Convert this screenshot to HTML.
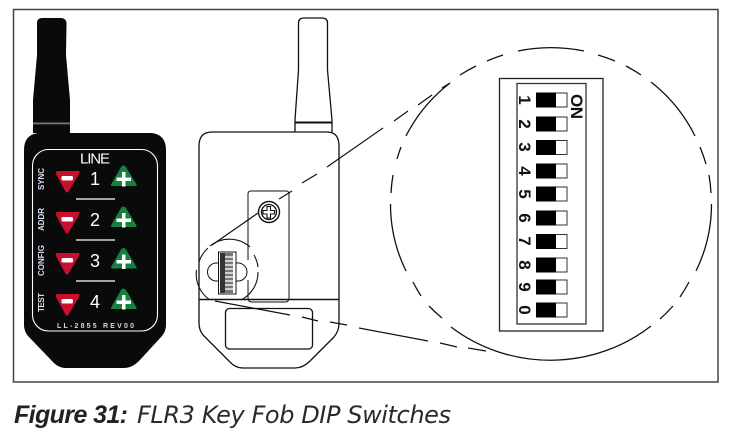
<!DOCTYPE html>
<html><head><meta charset="utf-8">
<style>html,body{margin:0;padding:0;background:#fff}svg{display:block}
text{font-family:"Liberation Sans",sans-serif}</style></head>
<body>
<svg width="730" height="437" viewBox="0 0 730 437" xmlns="http://www.w3.org/2000/svg">
<defs>
<g id="minus"><path d="M57 171.500H79L79 173L68 191.500Q67 192.500 66 191.500L56 173Z" fill="#c8102e" stroke="#c8102e" stroke-linejoin="round"/><rect x="61.500" y="176" width="11.500" height="4.500" rx="1.500" fill="#fff"/></g>
<g id="plus"><path d="M123.500 165.500Q125 165.500 126 167L136.500 184.500Q137 186 135.500 186H112Q110.500 186 111 184.500L121 167Q122 165.500 123.500 165.500Z" fill="#16803f"/><path d="M122 172h3.500v5.500h5.500v3.500h-5.500v5.500h-3.500v-5.500h-5.500v-3.500h5.500z" fill="#fff"/></g>
</defs>
<rect width="730" height="437" fill="#fff"/>
<rect x="13.500" y="9.500" width="704.500" height="372.500" fill="#fff" stroke="#444" stroke-width="1.500"/>

<!-- black fob -->
<path d="M37 23Q37 18 42 18H61Q66 18 66.500 23L66 55L70 100V133H33V100L37 55Z" fill="#0a0a0a"/>
<rect x="33" y="122.500" width="37" height="1.800" fill="#777"/>
<path d="M38 133H152Q166 135 166 150V325Q166 331 162 336L139 361Q132 368 124 368H66Q58 368 52 361L28 336Q24 331 24 325V150Q24 135 38 133Z" fill="#0a0a0a"/>
<rect x="32.500" y="149.500" width="125" height="181.500" rx="16" fill="none" stroke="#fff" stroke-width="1.100"/>
<text x="80" y="163.500" font-size="15" fill="#fff" textLength="30">LINE</text>
<use href="#minus"/><use href="#minus" y="41"/><use href="#minus" y="82"/><use href="#minus" y="123"/>
<use href="#plus"/><use href="#plus" y="41"/><use href="#plus" y="82.500"/><use href="#plus" y="123"/>
<g font-size="18" fill="#fff" text-anchor="middle">
<text x="95" y="185">1</text><text x="95" y="226">2</text><text x="95" y="267">3</text><text x="95" y="308">4</text>
</g>
<g stroke="#fff" stroke-width="1.300"><path d="M76 199H115M76 240H115M76 281H115"/></g>
<g font-size="8" font-weight="bold" fill="#d5e0f2">
<text transform="translate(44,190) rotate(-90)" textLength="22">SYNC</text>
<text transform="translate(44,231) rotate(-90)" textLength="23">ADDR</text>
<text transform="translate(44,276) rotate(-90)" textLength="31">CONFIG</text>
<text transform="translate(44,312) rotate(-90)" textLength="19">TEST</text>
</g>
<text x="57" y="328" font-size="7" font-weight="bold" fill="#d8d8d8" textLength="77">LL-2855 REV00</text>

<!-- outline fob -->
<g fill="none" stroke="#111" stroke-width="1.300">
<path d="M295 132V120L298.500 70V23Q298.500 18 304 18H322Q327.500 18 327.500 23V70L332 120V132"/>
<path d="M295 122.500H332" stroke-width="2"/>
<path d="M212 132H327Q339 132 339 146V323Q339 331 334 337L310 361Q303 368 295 368H243Q235 368 229 361L204 336Q199 331 199 323V146Q199 132 212 132Z"/>
<path d="M199 299.500H339" stroke-width="1.600"/>
<path d="M248 260V194Q248 191 251 191H286Q289 191 289 194V298Q289 302 285 302H252" stroke-width="1"/>
<path d="M248 280V298Q248 302 252 302" stroke-width="1"/>
<rect x="225.500" y="308.500" width="87" height="40.500" rx="4"/>
<circle cx="269" cy="212" r="10.500" stroke-width="1.400"/><circle cx="269" cy="212" r="7.500"/>
<path d="M267 206.500h3.500v4h4v3.500h-4v4h-3.500v-4h-4v-3.500h4z" stroke-width="1.100"/>
<path d="M218 263H216.500a9 9 0 0 0 0 18H218M236 263H238a9 9 0 0 1 0 18H236" stroke-width="1"/>
</g>
<rect x="218.500" y="252" width="17.500" height="42" fill="#fff" stroke="#111" stroke-width="1"/>
<rect x="220" y="253" width="5" height="40" fill="#333"/>
<rect x="225" y="253" width="8" height="40" fill="#777"/>
<path d="M225 257h8M225 261h8M225 265h8M225 269h8M225 273h8M225 277h8M225 281h8M225 285h8M225 289h8" stroke="#eee" stroke-width="1.500"/>

<!-- small circle -->
<g fill="none" stroke="#111" stroke-width="1.100">
<path d="M210 246A31 31 0 0 1 250 247"/>
<path d="M254 255A31 31 0 0 1 258 267"/>
<path d="M258 272A31 31 0 0 1 241 300"/>
<path d="M208 248A31 31 0 0 0 199 262"/>
<path d="M196.500 270A31 31 0 0 0 210 300"/>
</g>

<!-- big circle -->
<g fill="none" stroke="#111" stroke-width="1.300">
<path d="M518 51A161 156 0 0 1 584 51"/>
<path d="M598 55A161 156 0 0 1 615 61"/>
<path d="M626 66A161 156 0 0 1 641 75"/>
<path d="M651 82A161 156 0 0 1 695 136"/>
<path d="M700 147A161 156 0 0 1 706 164"/>
<path d="M709 175A161 156 0 0 1 711 193"/>
<path d="M711.500 204A161 156 0 0 1 696 271"/>
<path d="M689 282A161 156 0 0 1 680 297"/>
<path d="M673 306A161 156 0 0 1 660 319"/>
<path d="M651 326A161 156 0 0 1 451 327"/>
<path d="M442 318A161 156 0 0 1 429 306"/>
<path d="M421 296A161 156 0 0 1 413 282"/>
<path d="M406 271A161 156 0 0 1 390.500 204"/>
<path d="M391 193A161 156 0 0 1 393 175"/>
<path d="M397 159A161 156 0 0 1 401 147"/>
<path d="M406 136A161 156 0 0 1 450 83"/>
<path d="M460 75A161 156 0 0 1 476 66"/>
<path d="M487 61A161 156 0 0 1 503 55"/>
</g>

<!-- connectors -->
<g fill="none" stroke="#111" stroke-width="1.200">
<path d="M212 245L258 213"/>
<path d="M279 199L292 191"/><path d="M302 183L317 174"/><path d="M327 167L383 128"/>
<path d="M394 121L408 111"/><path d="M418 105L432 95"/><path d="M442 88L450 83"/>
<path d="M215 301L290 315"/><path d="M302 317L318 321"/><path d="M330 322L347 325"/>
<path d="M359 328L428 341"/><path d="M440 343L457 347"/><path d="M468 348L486 351"/>
</g>

<!-- DIP panel -->
<rect x="499.500" y="78.500" width="103.500" height="252.500" fill="#fff" stroke="#222" stroke-width="1.300"/>
<rect x="517" y="83.500" width="69" height="240.500" fill="#fff" stroke="#333" stroke-width="1.300"/>
<g fill="#fff" stroke="#333" stroke-width="1">
<rect x="536.500" y="93" width="30.500" height="14"/><rect x="536.500" y="117" width="30.500" height="14"/>
<rect x="536.500" y="140.500" width="30.500" height="14"/><rect x="536.500" y="164" width="30.500" height="14"/>
<rect x="536.500" y="187" width="30.500" height="14"/><rect x="536.500" y="211" width="30.500" height="14"/>
<rect x="536.500" y="234.500" width="30.500" height="14"/><rect x="536.500" y="258" width="30.500" height="14"/>
<rect x="536.500" y="280" width="30.500" height="14"/><rect x="536.500" y="303" width="30.500" height="14"/>
</g>
<g fill="#000">
<rect x="536" y="92.500" width="20" height="15"/><rect x="536" y="116.500" width="20" height="15"/>
<rect x="536" y="140" width="20" height="15"/><rect x="536" y="163.500" width="20" height="15"/>
<rect x="536" y="186.500" width="20" height="15"/><rect x="536" y="210.500" width="20" height="15"/>
<rect x="536" y="234" width="20" height="15"/><rect x="536" y="257.500" width="20" height="15"/>
<rect x="536" y="279.500" width="20" height="15"/><rect x="536" y="302.500" width="20" height="15"/>
</g>
<g font-size="17" font-weight="bold" fill="#111" text-anchor="middle">
<text transform="translate(519,100) rotate(90)">1</text>
<text transform="translate(519,124) rotate(90)">2</text>
<text transform="translate(519,147) rotate(90)">3</text>
<text transform="translate(519,171) rotate(90)">4</text>
<text transform="translate(519,194) rotate(90)">5</text>
<text transform="translate(519,218) rotate(90)">6</text>
<text transform="translate(519,241) rotate(90)">7</text>
<text transform="translate(519,265) rotate(90)">8</text>
<text transform="translate(519,287) rotate(90)">9</text>
<text transform="translate(519,310) rotate(90)">0</text>
</g>
<text transform="translate(571,94) rotate(90)" font-size="17" font-weight="bold" fill="#111" textLength="25">ON</text>

<!-- caption -->
<text x="14" y="423" font-size="25" font-weight="bold" font-style="italic" fill="#222" textLength="114">Figure 31:</text>
<text x="137" y="423" font-size="24" font-style="italic" fill="#2a2a2a" style="font-family:'DejaVu Sans',sans-serif" textLength="314">FLR3 Key Fob DIP Switches</text>
</svg>
</body></html>
